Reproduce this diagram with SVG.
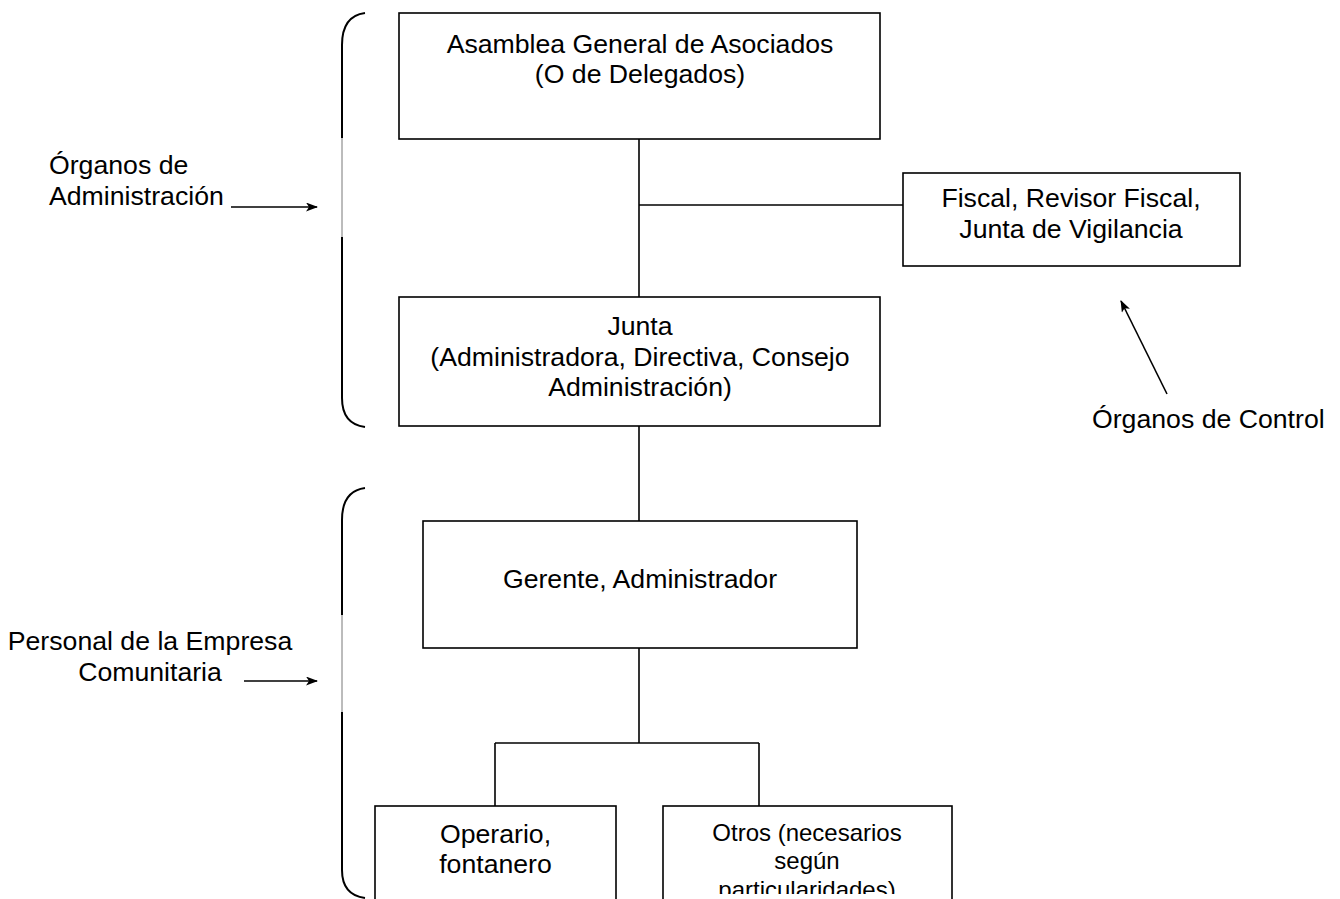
<svg xmlns="http://www.w3.org/2000/svg" width="1340" height="899" viewBox="0 0 1340 899">
<style>
.box{fill:#fff;stroke:#000;stroke-width:1.6}
.ln{stroke:#000;stroke-width:1.6;fill:none}
.br{stroke:#000;stroke-width:2;fill:none}
.thin{stroke:#555;stroke-width:0.8;fill:none}
.t{font-family:"Liberation Sans",Arial,sans-serif;font-size:26.67px;fill:#000}
.c{text-anchor:middle}
.s{font-size:24px}
</style>
<defs>
<marker id="ah" markerWidth="12" markerHeight="10" refX="11" refY="4.5" orient="auto" markerUnits="userSpaceOnUse">
<path d="M0,0 L12,4.5 L0,9 L3,4.5 z" fill="#000"/>
</marker>
<clipPath id="clipOtros"><rect x="663" y="806" width="289" height="88"/></clipPath>
</defs>
<rect width="1340" height="899" fill="#fff"/>

<g id="connectors">
<line class="ln" x1="639" y1="139" x2="639" y2="297"/>
<line class="ln" x1="639" y1="205" x2="903" y2="205"/>
<line class="ln" x1="639" y1="426" x2="639" y2="521"/>
<line class="ln" x1="639" y1="648" x2="639" y2="743"/>
<line class="ln" x1="495" y1="743" x2="759" y2="743"/>
<line class="ln" x1="495" y1="743" x2="495" y2="806"/>
<line class="ln" x1="759" y1="743" x2="759" y2="806"/>
</g>

<g id="bracket-admin">
<path class="br" d="M365,13 Q342,16 342,45 V138"/>
<line class="thin" x1="342" y1="138" x2="342" y2="237"/>
<path class="br" d="M342,237 V398 Q342,424 365,427"/>
</g>

<g id="bracket-personal">
<path class="br" d="M365,488 Q342,491 342,520 V615"/>
<line class="thin" x1="342" y1="615" x2="342" y2="712"/>
<path class="br" d="M342,712 V870 Q342,895 365,898"/>
</g>

<g id="label-organos-admin">
<text class="t" x="49" y="174">Órganos de</text>
<text class="t" x="49" y="205">Administración</text>
<line class="ln" x1="231" y1="207" x2="317" y2="207" marker-end="url(#ah)"/>
</g>

<g id="label-personal">
<text class="t c" x="150" y="650">Personal de la Empresa</text>
<text class="t c" x="150" y="681">Comunitaria</text>
<line class="ln" x1="244" y1="681" x2="317" y2="681" marker-end="url(#ah)"/>
</g>

<g id="label-control">
<text class="t" x="1092" y="428">Órganos de Control</text>
<line class="ln" x1="1167" y1="394" x2="1121" y2="301" marker-end="url(#ah)"/>
</g>

<g id="node-asamblea">
<rect class="box" x="399" y="13" width="481" height="126"/>
<text class="t c" x="640" y="53">Asamblea General de Asociados</text>
<text class="t c" x="640" y="83">(O de Delegados)</text>
</g>

<g id="node-fiscal">
<rect class="box" x="903" y="173" width="337" height="93"/>
<text class="t c" x="1071" y="207">Fiscal, Revisor Fiscal,</text>
<text class="t c" x="1071" y="238">Junta de Vigilancia</text>
</g>

<g id="node-junta">
<rect class="box" x="399" y="297" width="481" height="129"/>
<text class="t c" x="640" y="335">Junta</text>
<text class="t c" x="640" y="366">(Administradora, Directiva, Consejo</text>
<text class="t c" x="640" y="396">Administración)</text>
</g>

<g id="node-gerente">
<rect class="box" x="423" y="521" width="434" height="127"/>
<text class="t c" x="640" y="588">Gerente, Administrador</text>
</g>

<g id="node-operario">
<rect class="box" x="375" y="806" width="241" height="120"/>
<text class="t c" x="495.5" y="843">Operario,</text>
<text class="t c" x="495.5" y="873">fontanero</text>
</g>

<g id="node-otros">
<rect class="box" x="663" y="806" width="289" height="120"/>
<g clip-path="url(#clipOtros)">
<text class="t s c" x="807" y="841">Otros (necesarios</text>
<text class="t s c" x="807" y="869">según</text>
<text class="t s c" x="807" y="898">particularidades)</text>
</g>
</g>
</svg>
